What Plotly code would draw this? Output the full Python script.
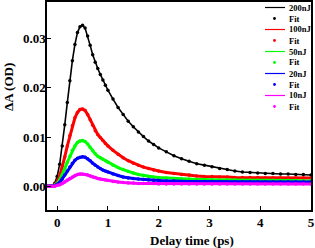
import plotly.graph_objects as go

# ---- data ----
delay_ps = [-0.2, -0.15, -0.1, -0.05, 0.0, 0.05, 0.1, 0.15, 0.2, 0.25, 0.3, 0.35, 0.4, 0.45, 0.5,
            0.55, 0.6, 0.65, 0.7, 0.75, 0.8, 0.85, 0.9, 0.95, 1.0,
            1.1, 1.2, 1.3, 1.4, 1.5, 1.6, 1.7, 1.8, 1.9, 2.0,
            2.15, 2.3, 2.45, 2.6, 2.75, 2.9, 3.05, 3.2, 3.35, 3.5, 3.65, 3.8, 3.95, 4.1, 4.25,
            4.4, 4.55, 4.7, 4.85, 5.0]

dA_200nJ = [0, 0, 0.0001, 0.0006, 0.0020, 0.0045, 0.0082, 0.0125, 0.0170, 0.0214, 0.0255, 0.0288, 0.0312, 0.0324, 0.0327,
            0.0321, 0.0305, 0.0286, 0.0267, 0.0252, 0.0239, 0.0227, 0.0216, 0.0205, 0.0195,
            0.0177, 0.0160, 0.0146, 0.0132, 0.0121, 0.0110, 0.0101, 0.0092, 0.0085, 0.0078,
            0.0070, 0.0062, 0.0056, 0.0051, 0.0046, 0.0043, 0.0040, 0.0036, 0.0034, 0.0031,
            0.0029, 0.0028, 0.0027, 0.0026, 0.0026, 0.0025, 0.0025, 0.0024, 0.0024, 0.0023]
dA_100nJ = [0, 0, 0, 0.0003, 0.0009, 0.0021, 0.0039, 0.0060, 0.0082, 0.0103, 0.0123, 0.0139, 0.0150, 0.0156, 0.0157,
            0.0154, 0.0146, 0.0135, 0.0124, 0.0113, 0.0105, 0.0099, 0.0093, 0.0087, 0.0082,
            0.0073, 0.0065, 0.0058, 0.0052, 0.0047, 0.0043, 0.0039, 0.0036, 0.0033, 0.0031,
            0.0028, 0.0026, 0.0024, 0.0023, 0.0021, 0.0020, 0.0020, 0.0019, 0.0019, 0.0018,
            0.0018, 0.0018, 0.0018, 0.0017, 0.0017, 0.0017, 0.0017, 0.0017, 0.0017, 0.0017]
dA_50nJ = [0, 0, 0, 0.0002, 0.0006, 0.0013, 0.0023, 0.0036, 0.0049, 0.0061, 0.0073, 0.0082, 0.0089, 0.0092, 0.0093,
           0.0091, 0.0086, 0.0079, 0.0072, 0.0066, 0.0061, 0.0058, 0.0055, 0.0052, 0.0049,
           0.0043, 0.0038, 0.0034, 0.0030, 0.0027, 0.0024, 0.0022, 0.0020, 0.0019, 0.0018,
           0.0017, 0.0016, 0.0015, 0.0015, 0.0014, 0.0014, 0.0013, 0.0013, 0.0013, 0.0013,
           0.0012, 0.0012, 0.0012, 0.0012, 0.0012, 0.0012, 0.0012, 0.0012, 0.0011, 0.0011]
dA_20nJ = [0, 0, 0, 0.0001, 0.0004, 0.0008, 0.0015, 0.0023, 0.0031, 0.0039, 0.0047, 0.0053, 0.0057, 0.0059, 0.0060,
           0.0059, 0.0056, 0.0052, 0.0047, 0.0043, 0.0039, 0.0036, 0.0033, 0.0031, 0.0029,
           0.0025, 0.0022, 0.0019, 0.0017, 0.0016, 0.0015, 0.0014, 0.0013, 0.0012, 0.0012,
           0.0011, 0.0011, 0.0010, 0.0010, 0.0010, 0.0010, 0.0010, 0.0009, 0.0009, 0.0009,
           0.0009, 0.0009, 0.0009, 0.0009, 0.0009, 0.0009, 0.0009, 0.0009, 0.0009, 0.0009]
dA_10nJ = [0, 0, 0, 0.0000, 0.0002, 0.0003, 0.0006, 0.0009, 0.0013, 0.0016, 0.0019, 0.0022, 0.0024, 0.0025, 0.0025,
           0.0024, 0.0023, 0.0021, 0.0019, 0.0018, 0.0016, 0.0015, 0.0014, 0.0013, 0.0012,
           0.0010, 0.0009, 0.0008, 0.0007, 0.0007, 0.0006, 0.0006, 0.0006, 0.0006, 0.0005,
           0.0005, 0.0005, 0.0005, 0.0005, 0.0005, 0.0005, 0.0005, 0.0005, 0.0005, 0.0005,
           0.0005, 0.0005, 0.0005, 0.0005, 0.0005, 0.0005, 0.0005, 0.0005, 0.0005, 0.0005]

series_names = ["200nJ", "100nJ", "50nJ", "20nJ", "10nJ"]
series_data = [dA_200nJ, dA_100nJ, dA_50nJ, dA_20nJ, dA_10nJ]
fit_label = "Fit"
x_ticks = [0, 1, 2, 3, 4, 5]
y_ticks = [0.00, 0.01, 0.02, 0.03]
x_title = "Delay time (ps)"
y_title = "ΔA (OD)"

# ---- style ----
colors = ["#000000", "#FF0000", "#00FF00", "#0000FF", "#FF00FF"]
line_widths = [1.6, 3, 3, 3, 3]
FONT = "Liberation Serif, Times New Roman, serif"

W, H = 315, 248
L, R, T, B = 47, 4, 2, 38

fig = go.Figure()
for name, ys, c, lw in zip(series_names, series_data, colors, line_widths):
    fig.add_trace(go.Scatter(x=delay_ps, y=ys, mode="lines", name=name,
                             line=dict(color=c, width=lw), showlegend=False))
    fig.add_trace(go.Scatter(x=delay_ps, y=ys, mode="markers", name=fit_label,
                             marker=dict(color=c, size=3.5), showlegend=False))

# manual compact legend (paper coords)
pw, ph = W - L - R, H - T - B
def px2x(px):
    return (px - L) / pw
def py2y(py):
    return (H - B - py) / ph

shapes, annotations = [], []
row_y = 7.5
row_step = 11.0
for name, c in zip(series_names, colors):
    for kind in ("line", "dot"):
        yp = py2y(row_y)
        if kind == "line":
            shapes.append(dict(type="line", xref="paper", yref="paper",
                               x0=px2x(265), x1=px2x(285), y0=yp, y1=yp,
                               line=dict(color=c, width=1.2)))
            txt = name
        else:
            r = 1.4
            shapes.append(dict(type="circle", xref="paper", yref="paper",
                               x0=px2x(274.5 - r), x1=px2x(274.5 + r),
                               y0=py2y(row_y + r), y1=py2y(row_y - r),
                               fillcolor=c, line=dict(color=c, width=0)))
            txt = fit_label
        annotations.append(dict(xref="paper", yref="paper", x=px2x(286.5), y=yp,
                                xanchor="left", yanchor="middle", showarrow=False,
                                text=txt, font=dict(family=FONT, size=8.5, color="black", weight="bold")))
        row_y += row_step

title_font = dict(family=FONT, size=13, color="black", weight="bold")
annotations.append(dict(xref="paper", yref="paper", x=px2x(191.5), y=py2y(241),
                        xanchor="center", yanchor="middle", showarrow=False,
                        text=x_title, font=title_font))
annotations.append(dict(xref="paper", yref="paper", x=px2x(8.5), y=py2y(87.5),
                        xanchor="center", yanchor="middle", showarrow=False, textangle=-90,
                        text=y_title, font=title_font))

axis_common = dict(showline=True, linecolor="black", linewidth=1.5, mirror=True,
                   ticks="inside", ticklen=4, tickwidth=1.2, tickcolor="black",
                   showgrid=False, zeroline=False,
                   tickfont=dict(family=FONT, size=13, color="black", weight="bold"))

fig.update_layout(
    width=W, height=H,
    margin=dict(l=L, r=R, t=T, b=B, autoexpand=False),
    paper_bgcolor="white", plot_bgcolor="white",
    font=dict(family=FONT, color="black"),
    shapes=shapes, annotations=annotations,
    xaxis=dict(range=[-0.2, 5.0], tickvals=x_ticks, **axis_common),
    yaxis=dict(range=[-0.0048, 0.0374], tickvals=y_ticks, tickformat=".2f",
               ticklabelstandoff=-3, **axis_common),
)

fig.write_html("out.html", config={"displayModeBar": False},
               post_script="document.body.style.margin='0px';document.body.style.overflow='hidden';")
